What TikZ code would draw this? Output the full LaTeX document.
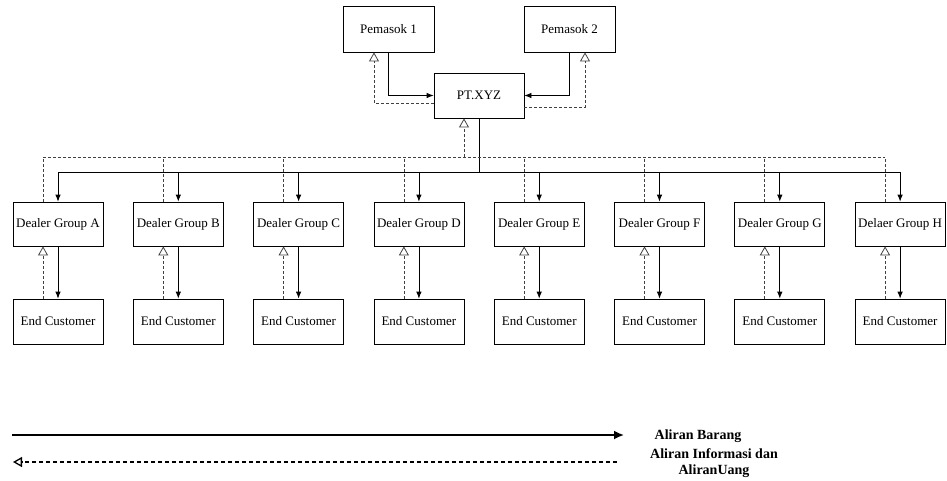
\documentclass[tikz,border=0pt]{standalone}
\usepackage{fontspec}
\setmainfont{Liberation Serif}
\usetikzlibrary{arrows.meta}
\tikzset{
    RB/.style ={rectangle, draw, minimum width=90pt, minimum height=45pt, inner sep=0pt, font=\fontsize{13}{15}\selectfont},
    AR/.style ={-{Latex[length=7pt,width=5.5pt]}},
    DA/.style ={black!75, dash pattern=on 3pt off 2pt, -{Triangle[open,length=9pt,width=10pt]}},
    DL/.style ={black!75, dash pattern=on 3pt off 2pt},
    LG/.style ={font=\bfseries\fontsize{14}{16}\selectfont, align=center}}

\begin{document}
\begin{tikzpicture}[x=1pt,y=-1pt,line width=0.8pt]
        \useasboundingbox (0,0) rectangle (947,480);
        \node[RB, minimum width=91pt, minimum height=46pt] (p1) at(388.5,29){Pemasok 1};
        \node[RB, minimum width=91pt, minimum height=46pt] (p2) at(569.5,29){Pemasok 2};
        \node[RB] (pt) at(479,95.5){PT.XYZ};
        % dealer dan end customer
        \foreach \i/\t in {1/Dealer Group A,2/Dealer Group B,3/Dealer Group C,4/Dealer Group D,
                           5/Dealer Group E,6/Dealer Group F,7/Dealer Group G,8/Delaer Group H}{
            \node[RB, minimum height=44pt] (d\i) at({58+120.3*(\i-1)},224){\t};
            \node[RB] (c\i) at({58+120.3*(\i-1)},321.5){End Customer};
            \coordinate (di\i) at([xshift=-15pt]d\i.north);
        }
        \coordinate (sbus) at(479,172);
        \coordinate (ibus) at(464,157);
        % pemasok - PT.XYZ
        \draw[AR] (p1.south) |- (pt.west);
        \draw[AR] (p2.south) |- (pt.east);
        \draw[DA] ([yshift=-7.5pt]pt.west) -| ([xshift=-14.5pt]p1.south);
        \draw[DA] ([yshift=-11.5pt]pt.east) -| ([xshift=15.5pt]p2.south);
        % PT.XYZ - dealer
        \draw (pt.south -| sbus) -- (sbus);
        \draw (sbus -| d1.north) -- (sbus -| d8.north);
        \draw[DA] (ibus) -- (ibus |- pt.south);
        \draw[DL] (ibus -| di1) -- (ibus -| di8);
        \foreach \i in {1,...,8}{
            \draw[AR] (sbus -| d\i.north) -- (d\i.north);
            \draw[DL] (di\i) -- (ibus -| di\i);
            \draw[AR] (d\i.south) -- (c\i.north);
            \draw[DA] ([xshift=-15pt]c\i.north) -- ([xshift=-15pt]d\i.south);
        }
        % keterangan
        \node[LG] (lb) at(698,436){Aliran Barang};
        \node[LG] (li) at(714,463){Aliran Informasi dan\\AliranUang};
        \coordinate (ls1) at(12,435);
        \coordinate (ls2) at(624,435);
        \coordinate (ld1) at(617,462);
        \coordinate (ld2) at(13,462);
        \draw[line width=1.8pt, -{Latex[length=10pt,width=9pt]}] (ls1) -- (ls2);
        \draw[line width=1.3pt, dash pattern=on 4pt off 3pt, -{Triangle[open,length=9pt,width=10pt]}] (ld1) -- (ld2);
    \end{tikzpicture}
\end{document}
